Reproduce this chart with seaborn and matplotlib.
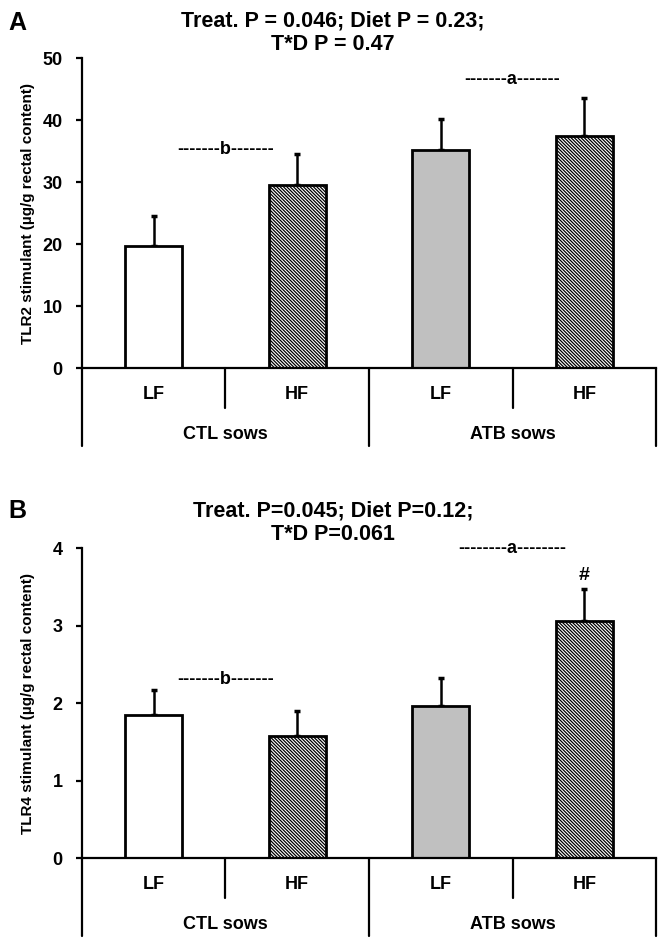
import numpy as np
import pandas as pd
import matplotlib
matplotlib.use('Agg')
import matplotlib.pyplot as plt
import matplotlib.transforms as mtransforms
import seaborn as sns

# Data (mean and upper SEM)
groups = ['CTL LF', 'CTL HF', 'ATB LF', 'ATB HF']
diet_labels = ['LF', 'HF', 'LF', 'HF']
sow_labels = ['CTL sows', 'ATB sows']

tlr2_mean = [19.7, 29.6, 35.1, 37.5]
tlr2_sem = [4.9, 4.9, 5.1, 6.0]

tlr4_mean = [1.84, 1.57, 1.96, 3.06]
tlr4_sem = [0.33, 0.33, 0.36, 0.41]

bar_fill = ['white', 'white', '#c0c0c0', 'white']
bar_hatch = ['', '\\' * 10, '', '\\' * 10]

sns.set_theme(style='ticks')
plt.rcParams['hatch.linewidth'] = 0.9
plt.rcParams['font.family'] = ['Liberation Sans', 'DejaVu Sans']
plt.rcParams['text.color'] = 'black'
plt.rcParams['axes.labelcolor'] = 'black'

fig = plt.figure(figsize=(6.66, 9.5), dpi=100)


def draw_panel(ax, means, sems, ymax, yticks, ylabel):
    df = pd.DataFrame({'group': groups, 'value': means})
    sns.barplot(data=df, x='group', y='value', order=groups, errorbar=None,
                width=0.4, ax=ax, zorder=2)
    for patch, fc, h in zip(ax.patches, bar_fill, bar_hatch):
        patch.set_facecolor(fc)
        patch.set_edgecolor('black')
        patch.set_linewidth(2.0)
        patch.set_hatch(h)
    ax.errorbar(np.arange(len(groups)), means, yerr=[np.zeros(len(sems)), sems],
                fmt='none', ecolor='black', elinewidth=1.8, capsize=2.5,
                capthick=2.5, zorder=1)
    ax.set_xlim(-0.5, 3.5)
    ax.set_ylim(0, ymax)
    ax.set_yticks(yticks)
    ax.set_yticklabels([str(t) for t in yticks], fontsize=13, fontweight='bold')
    ax.set_xticks([])
    ax.set_xlabel('')
    ax.set_ylabel(ylabel, fontsize=11, fontweight='bold')
    ax.yaxis.set_label_coords(-0.082, 0.5)
    sns.despine(ax=ax)
    for side in ['left', 'bottom']:
        ax.spines[side].set_linewidth(1.6)
        ax.spines[side].set_color('black')
    ax.tick_params(axis='y', direction='out', length=4, width=1.6, pad=10,
                   colors='black')
    ax.set_facecolor('white')

    # category boxes under the axis
    trans = mtransforms.blended_transform_factory(ax.transData, ax.transAxes)
    for xd in [0.5, 2.5]:
        ax.plot([xd, xd], [0, -0.129], transform=trans, color='black',
                lw=1.6, clip_on=False)
    for xd in [-0.5, 1.5, 3.5]:
        ax.plot([xd, xd], [0, -0.252], transform=trans, color='black',
                lw=1.6, clip_on=False)
    for i, lab in enumerate(diet_labels):
        ax.text(i, -0.084, lab, transform=trans, ha='center', va='center',
                fontsize=13, fontweight='bold')
    for i, lab in enumerate(sow_labels):
        ax.text(0.5 + 2 * i, -0.213, lab, transform=trans, ha='center',
                va='center', fontsize=13, fontweight='bold')


ax_a = fig.add_axes([0.1231, 0.6126, 0.8619, 0.3263])
draw_panel(ax_a, tlr2_mean, tlr2_sem, 50, [0, 10, 20, 30, 40, 50],
           'TLR2 stimulant (\u00b5g/g rectal content)')
ax_a.text(0.5, 35.2, '-------b-------', ha='center', va='center',
          fontsize=13, fontweight='bold')
ax_a.text(2.5, 46.5, '-------a-------', ha='center', va='center',
          fontsize=13, fontweight='bold')

ax_b = fig.add_axes([0.1231, 0.0968, 0.8619, 0.3263])
draw_panel(ax_b, tlr4_mean, tlr4_sem, 4, [0, 1, 2, 3, 4],
           'TLR4 stimulant (\u00b5g/g rectal content)')
ax_b.text(0.5, 2.31, '-------b-------', ha='center', va='center',
          fontsize=13, fontweight='bold')
ax_b.text(2.5, 3.99, '--------a--------', ha='center', va='center',
          fontsize=13, fontweight='bold')
ax_b.text(3, 3.64, '#', ha='center', va='center', fontsize=14,
          fontweight='bold')

# panel letters and titles
fig.text(0.012, 0.976, 'A', fontsize=18, fontweight='bold', va='center')
fig.text(0.5, 0.978, 'Treat. P = 0.046; Diet P = 0.23;', ha='center',
         va='center', fontsize=15.5, fontweight='bold')
fig.text(0.5, 0.953, 'T*D P = 0.47', ha='center', va='center',
         fontsize=15.5, fontweight='bold')

fig.text(0.012, 0.462, 'B', fontsize=18, fontweight='bold', va='center')
fig.text(0.5, 0.462, 'Treat. P=0.045; Diet P=0.12;', ha='center',
         va='center', fontsize=15.5, fontweight='bold')
fig.text(0.5, 0.437, 'T*D P=0.061', ha='center', va='center',
         fontsize=15.5, fontweight='bold')

fig.savefig('out.png', dpi=100, facecolor='white')
